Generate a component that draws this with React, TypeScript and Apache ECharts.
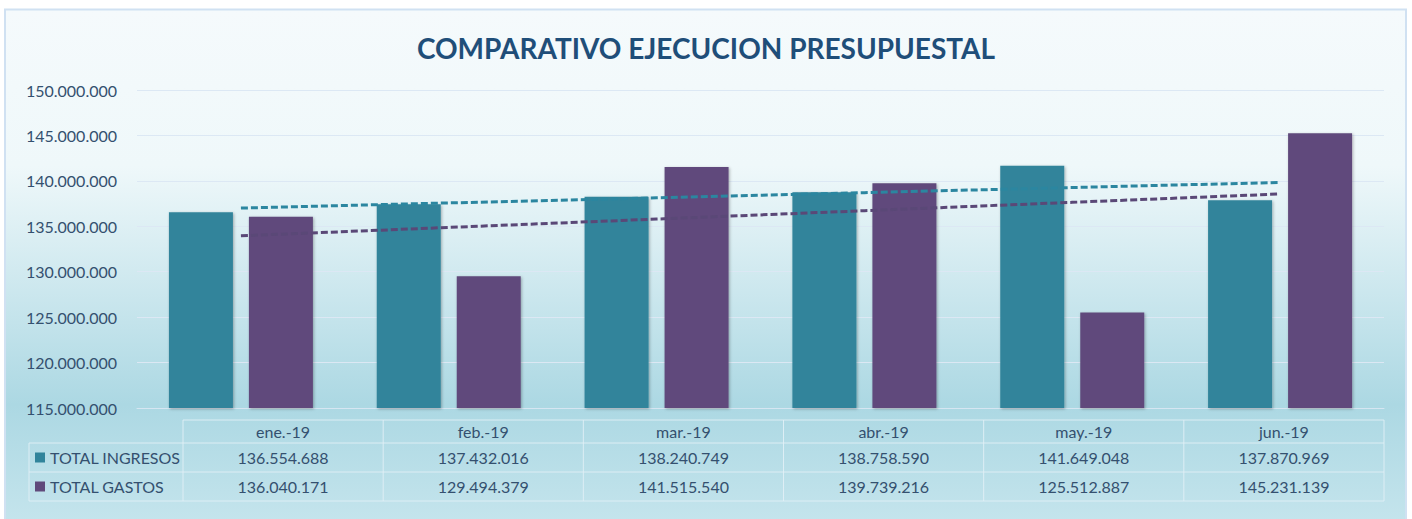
import React, { useEffect, useRef } from "react";
import * as echarts from "echarts";

const months = ["ene.-19", "feb.-19", "mar.-19", "abr.-19", "may.-19", "jun.-19"];
const ingresos = [136554688, 137432016, 138240749, 138758590, 141649048, 137870969];
const gastos = [136040171, 129494379, 141515540, 139739216, 125512887, 145231139];
const seriesNames = ["TOTAL INGRESOS", "TOTAL GASTOS"];
const yTicks = { min: 115000000, max: 150000000, interval: 5000000 };

const TEAL = "#31849b";
const PURPLE = "#604a7b";
const TEXT = "#34506f";
const FONT = "Lato, 'Open Sans', sans-serif";

const fmt = (v: number) => String(Math.round(v)).replace(/\B(?=(\d{3})+(?!\d))/g, ".");

// linear (least squares) trendline, as Excel draws it
function trend(vals: number[]): number[] {
  const n = vals.length;
  const mx = (n - 1) / 2;
  const my = vals.reduce((a, b) => a + b, 0) / n;
  let sxy = 0, sxx = 0;
  vals.forEach((v, i) => { sxy += (i - mx) * (v - my); sxx += (i - mx) * (i - mx); });
  const b = sxy / sxx;
  return vals.map((_, i) => my + b * (i - mx));
}

export default function App() {
  const ref = useRef<HTMLDivElement>(null);
  useEffect(() => {
    if (!ref.current) return;
    const chart = echarts.init(ref.current, null, { renderer: "svg" });

    // table geometry
    const tLeft = 29, cLeft = 183, cRight = 1384;
    const colW = (cRight - cLeft) / months.length;
    const yHead = 420, yR1 = 443, yR2 = 472, yR3 = 501;
    const lineStyle = { stroke: "rgba(225,240,246,0.9)", lineWidth: 1 };
    const g: any[] = [];
    // frame
    g.push({
      type: "rect", z: -10, silent: true,
      shape: { x: 5, y: 9.5, width: 1401, height: 520 },
      style: {
        fill: new echarts.graphic.LinearGradient(0, 0, 0, 1, [
          { offset: 0, color: "#f5fafc" },
          { offset: 0.3, color: "#eff8fa" },
          { offset: 0.76, color: "#acd8e3" },
          { offset: 1, color: "#c6e5ed" },
        ]),
        stroke: "#d0e1f2", lineWidth: 2,
      },
    });
    // horizontal lines
    g.push({ type: "line", shape: { x1: cLeft, y1: yHead, x2: cRight, y2: yHead }, style: lineStyle });
    [yR1, yR2, yR3].forEach((y) =>
      g.push({ type: "line", shape: { x1: tLeft, y1: y, x2: cRight, y2: y }, style: lineStyle })
    );
    // vertical lines
    g.push({ type: "line", shape: { x1: tLeft, y1: yR1, x2: tLeft, y2: yR3 }, style: lineStyle });
    for (let i = 0; i <= months.length; i++) {
      const x = cLeft + i * colW;
      g.push({ type: "line", shape: { x1: x, y1: yHead, x2: x, y2: yR3 }, style: lineStyle });
    }
    const txt = (x: number, y: number, text: string, align: string) => ({
      type: "text", x, y,
      style: { text, fill: TEXT, font: `16px ${FONT}`, textAlign: align, textVerticalAlign: "middle" },
    });
    months.forEach((m, i) => {
      const cx = cLeft + (i + 0.5) * colW;
      g.push(txt(cx, (yHead + yR1) / 2, m, "center"));
      g.push(txt(cx, (yR1 + yR2) / 2, fmt(ingresos[i]), "center"));
      g.push(txt(cx, (yR2 + yR3) / 2, fmt(gastos[i]), "center"));
    });
    [[yR1, yR2], [yR2, yR3]].forEach(([a, b], k) => {
      const cy = (a + b) / 2;
      g.push({ type: "rect", shape: { x: 35, y: cy - 5, width: 10, height: 10 }, style: { fill: k === 0 ? TEAL : PURPLE } });
      g.push(txt(50, cy, seriesNames[k], "left"));
    });

    chart.setOption({
      animation: false,
      backgroundColor: "#ffffff",
      title: {
        text: "COMPARATIVO EJECUCION PRESUPUESTAL",
        left: "center", top: 29,
        textStyle: { color: "#1f4e79", fontFamily: FONT, fontWeight: "bold", fontSize: 28 },
      },
      grid: { left: 137, right: 28, top: 90, height: 318, containLabel: false },
      xAxis: {
        type: "category", data: months,
        axisLabel: { show: false }, axisTick: { show: false },
        axisLine: { show: true, lineStyle: { color: "#d6e6f2", width: 1 } },
      },
      yAxis: {
        type: "value", min: yTicks.min, max: yTicks.max, interval: yTicks.interval,
        axisLine: { show: false }, axisTick: { show: false },
        axisLabel: { formatter: (v: number) => fmt(v), color: TEXT, fontFamily: FONT, fontSize: 16, margin: 20 },
        splitLine: { lineStyle: { color: "#dce8f4", width: 1 } },
      },
      series: [
        {
          name: seriesNames[0], type: "bar", data: ingresos, barWidth: 64, barGap: "25%",
          itemStyle: { color: TEAL, shadowColor: "rgba(0,0,0,0.3)", shadowBlur: 3, shadowOffsetX: 1, shadowOffsetY: 1 },
        },
        {
          name: seriesNames[1], type: "bar", data: gastos, barWidth: 64,
          itemStyle: { color: PURPLE, shadowColor: "rgba(0,0,0,0.3)", shadowBlur: 3, shadowOffsetX: 1, shadowOffsetY: 1 },
        },
        {
          name: "trend ingresos", type: "line", data: trend(ingresos), symbol: "none", z: 5,
          lineStyle: { color: "#2b86a0", width: 3, type: [7, 3], cap: "butt" },
        },
        {
          name: "trend gastos", type: "line", data: trend(gastos), symbol: "none", z: 5,
          lineStyle: { color: "#5a4877", width: 3, type: [7, 3], cap: "butt" },
        },
      ],
      graphic: g,
    });
    return () => chart.dispose();
  }, []);
  return <div ref={ref} style={{ position: "absolute", left: 0, top: 0, width: 1412, height: 519 }} />;
}
